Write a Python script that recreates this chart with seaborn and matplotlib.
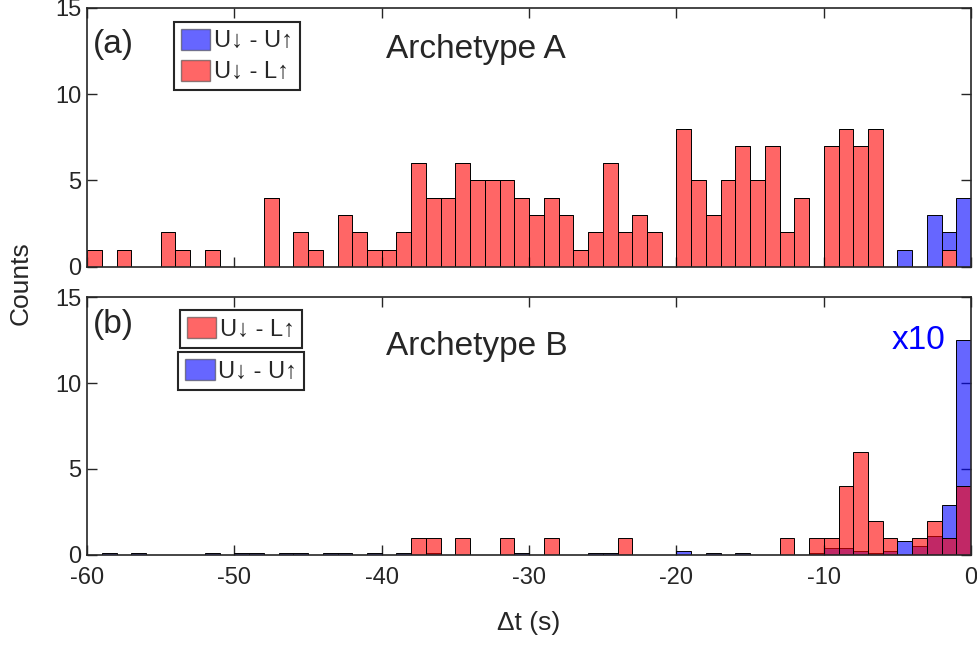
import numpy as np
import pandas as pd
import matplotlib
matplotlib.use('Agg')
import matplotlib.pyplot as plt
from matplotlib.patches import Patch
import seaborn as sns

# bin edges (1 s bins from -60 to 0)
bin_edges = list(range(-60, 1))

# panel (a) Archetype A, counts per bin
a_ul = [1, 0, 1, 0, 0, 2, 1, 0, 1, 0, 0, 0, 4, 0, 2, 1, 0, 3, 2, 1,
        1, 2, 6, 4, 4, 6, 5, 5, 5, 4, 3, 4, 3, 1, 2, 6, 2, 3, 2, 0,
        8, 5, 3, 5, 7, 5, 7, 2, 4, 0, 7, 8, 7, 8, 0, 0, 0, 0, 1, 0]
a_uu = [0] * 55 + [1, 0, 3, 1, 4]

# panel (b) Archetype B, counts per bin (U-U shown x10)
b_ul = [0, 0, 0, 0, 0, 0, 0, 0, 0, 0,
        0, 0, 0, 0, 0, 0, 0, 0, 0, 0,
        0, 0, 1, 1, 0, 1, 0, 0, 1, 0,
        0, 1, 0, 0, 0, 0, 1, 0, 0, 0,
        0, 0, 0, 0, 0, 0, 0, 1, 0, 1,
        1, 4, 6, 2, 1, 0, 1, 2, 1, 4]
b_uu = [0, 0.1, 0, 0.1, 0, 0, 0, 0, 0.1, 0,
        0.1, 0.1, 0, 0.1, 0.1, 0, 0.1, 0.1, 0, 0.1,
        0, 0.1, 0, 0.1, 0, 0, 0, 0, 0, 0.1,
        0, 0, 0, 0, 0.1, 0.1, 0, 0, 0, 0,
        0.2, 0, 0.1, 0, 0.1, 0, 0, 0, 0, 0.1,
        0.4, 0.4, 0.2, 0.1, 0.2, 0.8, 0.5, 1.1, 2.9, 12.5]

lab_uu = 'U\u2193 - U\u2191'
lab_ul = 'U\u2193 - L\u2191'

sns.set_style('ticks')
plt.rcParams['font.family'] = ['Liberation Sans', 'DejaVu Sans']
plt.rcParams['axes.unicode_minus'] = False

centers = np.array(bin_edges[:-1]) + 0.5
red = 'red'
blue = 'blue'

df_a = pd.DataFrame({
    't': np.concatenate([centers, centers]),
    'n': a_uu + a_ul,
    'type': [lab_uu] * 60 + [lab_ul] * 60,
})

fig = plt.figure(figsize=(9.78, 6.46), dpi=100)
ax1 = fig.add_axes([0.089, 0.587, 0.904, 0.401])
ax2 = fig.add_axes([0.089, 0.141, 0.904, 0.399])

# (a) stacked, U-L at the bottom
sns.histplot(data=df_a, x='t', weights='n', hue='type', hue_order=[lab_uu, lab_ul],
             multiple='stack', bins=bin_edges, palette={lab_uu: blue, lab_ul: red},
             alpha=0.6, edgecolor='black', linewidth=0.7, legend=False, ax=ax1)

# (b) layered, U-U behind U-L
sns.histplot(x=centers, weights=b_uu, bins=bin_edges, color=blue, alpha=0.6,
             edgecolor='black', linewidth=0.7, ax=ax2)
sns.histplot(x=centers, weights=b_ul, bins=bin_edges, color=red, alpha=0.6,
             edgecolor='black', linewidth=0.7, ax=ax2)

for ax in (ax1, ax2):
    ax.set_xlim(-60, 0)
    ax.set_ylim(0, 15)
    ax.set_xticks(range(-60, 1, 10))
    ax.set_yticks([0, 5, 10, 15])
    ax.set_xlabel('')
    ax.set_ylabel('')
    for sp in ax.spines.values():
        sp.set_visible(True)
        sp.set_color('#262626')
        sp.set_linewidth(1.2)
    ax.tick_params(direction='in', length=7, width=1, top=True, right=True,
                   labelsize=17, colors='#262626', pad=4)

ax1.tick_params(labelbottom=False)
ax2.tick_params(axis='x', pad=9)

ax1.text(-59.6, 12.9, '(a)', fontsize=24, va='center', ha='left')
ax1.text(-39.7, 12.6, 'Archetype A', fontsize=24, va='center', ha='left')
ax2.text(-59.6, 13.4, '(b)', fontsize=24, va='center', ha='left')
ax2.text(-39.7, 12.1, 'Archetype B', fontsize=24, va='center', ha='left')
ax2.text(-1.75, 12.5, 'x10', fontsize=24, color='blue', va='center', ha='right')

leg_kw = dict(fontsize=17, frameon=True, fancybox=False, edgecolor='#262626',
              handlelength=1.25, handleheight=1.0, handletextpad=0.15,
              borderpad=0.3, borderaxespad=0, labelspacing=0.3, framealpha=1)

h_uu = Patch(facecolor=blue, alpha=0.6, edgecolor='#444444')
h_ul = Patch(facecolor=red, alpha=0.6, edgecolor='#444444')

leg1 = ax1.legend([h_uu, h_ul], [lab_uu, lab_ul], loc='upper left',
                  bbox_to_anchor=(0.098, 0.946), **leg_kw)
leg1.get_frame().set_linewidth(1.5)

leg2a = ax2.legend([h_ul], [lab_ul], loc='upper left',
                   bbox_to_anchor=(0.105, 0.950), **leg_kw)
leg2a.get_frame().set_linewidth(1.5)
ax2.add_artist(leg2a)
leg2b = ax2.legend([h_uu], [lab_uu], loc='upper left',
                   bbox_to_anchor=(0.103, 0.787), **leg_kw)
leg2b.get_frame().set_linewidth(1.5)

fig.text(0.021, 0.562, 'Counts', rotation=90, fontsize=19, ha='center', va='center')
fig.text(0.541, 0.035, '\u0394t (s)', fontsize=19, ha='center', va='center')

fig.savefig('out.png', dpi=100)
